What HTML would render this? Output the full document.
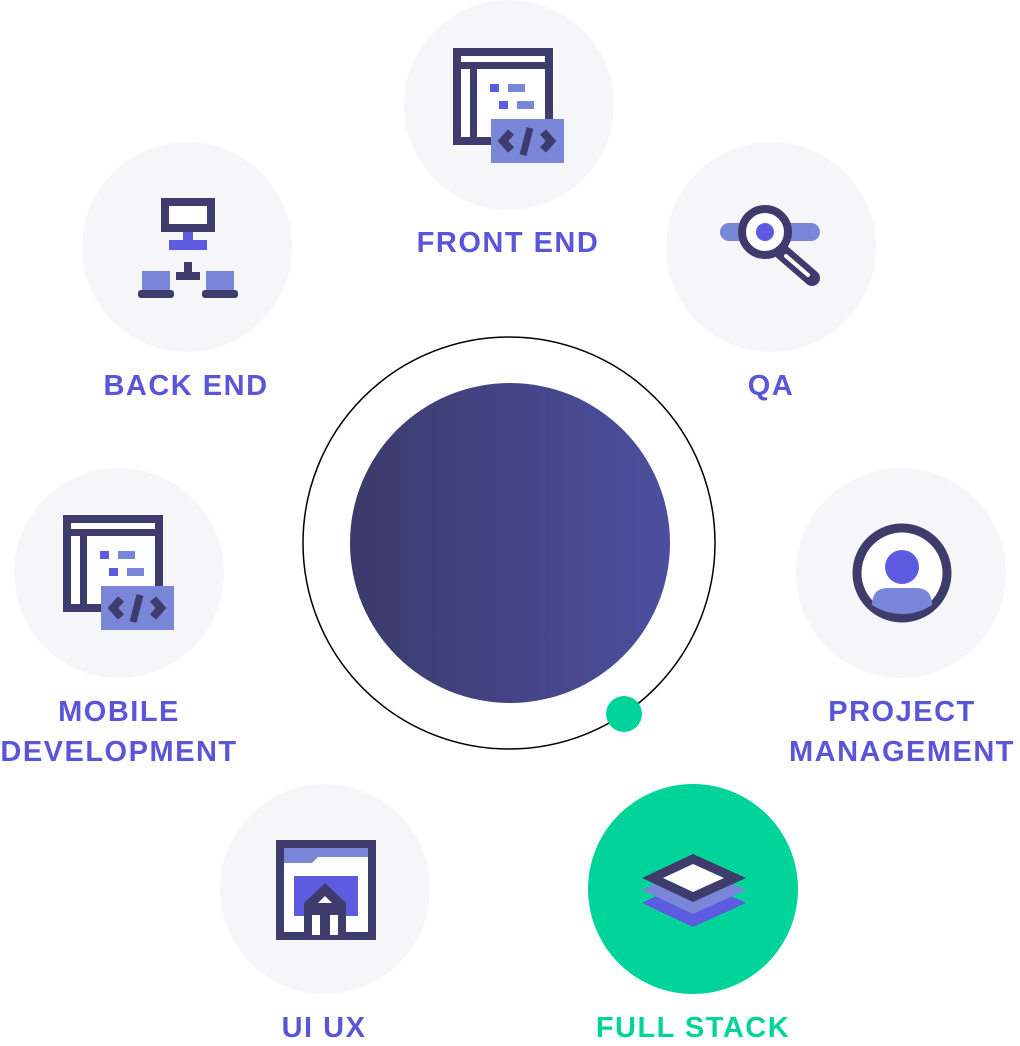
<!DOCTYPE html>
<html><head><style>
body{margin:0;background:#fff;width:1020px;height:1046px;overflow:hidden}
svg{display:block}
text{font-family:"Liberation Sans",sans-serif;font-weight:bold;font-size:29px;letter-spacing:1.5px;fill:#5b56d8;text-anchor:middle}
</style></head><body>
<svg width="1020" height="1046" viewBox="0 0 1020 1046">
<defs>
<linearGradient id="g" x1="0" x2="1" y1="0" y2="0"><stop offset="0" stop-color="#3c3a6b"/><stop offset="1" stop-color="#4c4f9f"/></linearGradient>
<g id="fe">
<rect x="457" y="52" width="92" height="89" fill="#fff" stroke="#3e3c6c" stroke-width="8"/>
<rect x="457" y="62" width="92" height="7" fill="#3e3c6c"/>
<rect x="470" y="66" width="7" height="75" fill="#3e3c6c"/>
<rect x="490" y="84" width="9" height="8" fill="#5d5ce0"/><rect x="508" y="84" width="17" height="8" fill="#7a86d8"/>
<rect x="499" y="101" width="9" height="8" fill="#5d5ce0"/><rect x="517" y="101" width="17" height="8" fill="#7a86d8"/>
<rect x="491" y="119" width="73" height="44" fill="#7a86d8"/>
<path d="M511 132 L503 141 L511 150" fill="none" stroke="#3e3c6c" stroke-width="8"/>
<path d="M543 132 L551 141 L543 150" fill="none" stroke="#3e3c6c" stroke-width="8"/>
<path d="M530 128 L523 155" fill="none" stroke="#3e3c6c" stroke-width="7"/>
</g>
</defs>
<g fill="#f5f6f8">
<circle cx="509" cy="105" r="105"/><circle cx="187" cy="247" r="105"/><circle cx="771" cy="247" r="105"/>
<circle cx="119" cy="573" r="105"/><circle cx="901" cy="573" r="105"/><circle cx="325" cy="889" r="105"/>
</g>
<circle cx="693" cy="889" r="105" fill="#00d49a"/>
<circle cx="509" cy="543" r="206" fill="none" stroke="#000" stroke-width="1.5"/>
<circle cx="510" cy="543" r="160" fill="url(#g)"/>
<circle cx="624" cy="714" r="18" fill="#00d49a"/>
<use href="#fe"/>
<use href="#fe" transform="translate(-390,467)"/>
<rect x="165" y="202" width="46" height="26" fill="#fff" stroke="#3e3c6c" stroke-width="8"/>
<rect x="183" y="232" width="10" height="8" fill="#5d5ce0"/><rect x="169" y="240" width="38" height="10" fill="#5d5ce0"/>
<rect x="184" y="262" width="8" height="10" fill="#3e3c6c"/><rect x="176" y="272" width="24" height="8" fill="#3e3c6c"/>
<rect x="142" y="271" width="28" height="19" fill="#7a86d8"/><rect x="138" y="290" width="36" height="8" rx="3" fill="#3e3c6c"/>
<rect x="206" y="271" width="28" height="19" fill="#7a86d8"/><rect x="202" y="290" width="36" height="8" rx="3" fill="#3e3c6c"/>
<rect x="720" y="223" width="100" height="18" rx="9" fill="#7a86d8"/>
<path d="M782 252 L812 278" stroke="#3e3c6c" stroke-width="16" stroke-linecap="round"/>
<path d="M786 256 L808 275" stroke="#fff" stroke-width="4" stroke-linecap="round"/>
<circle cx="765" cy="232" r="23" fill="#fff" stroke="#3e3c6c" stroke-width="8"/>
<circle cx="765" cy="232" r="9" fill="#5d5ce0"/>
<circle cx="902" cy="573" r="45" fill="#fff" stroke="#3e3c6c" stroke-width="9"/>
<path d="M872 605 Q872 588 888 588 L916 588 Q932 588 932 605 Q918 614 902 614 Q886 614 872 605Z" fill="#7a86d8"/>
<circle cx="902" cy="567" r="17" fill="#5d5ce0"/>
<rect x="280" y="844" width="92" height="92" fill="#fff" stroke="#3e3c6c" stroke-width="8"/>
<path d="M284 848 H368 V857 H318 L312 863 H284Z" fill="#7a86d8"/>
<rect x="294" y="876" width="64" height="40" fill="#5d5ce0"/>
<path d="M304 903 L325 883 L346 903 V940 H304Z" fill="#3e3c6c"/>
<path d="M318 903 L325 896 L332 903Z" fill="#fff"/>
<rect x="312" y="915" width="8" height="20" fill="#fff"/><rect x="330" y="915" width="8" height="20" fill="#fff"/>
<path d="M693 878 L746 903 L693 927 L642 903Z" fill="#5d5ce0"/>
<path d="M693 866 L746 890 L693 914 L642 890Z" fill="#7a86d8"/>
<path d="M693 854 L746 878 L693 902 L642 878Z" fill="#3e3c6c"/>
<path d="M693 864 L724 878 L693 892 L663 878Z" fill="#fff"/>
<text x="508" y="252">FRONT END</text>
<text x="186" y="395">BACK END</text>
<text x="771" y="395">QA</text>
<text x="119" y="721">MOBILE</text>
<text x="119" y="761">DEVELOPMENT</text>
<text x="902" y="721">PROJECT</text>
<text x="902" y="761">MANAGEMENT</text>
<text x="324" y="1037">UI UX</text>
<text x="693" y="1037" style="fill:#00d49a">FULL STACK</text>
</svg>
</body></html>
